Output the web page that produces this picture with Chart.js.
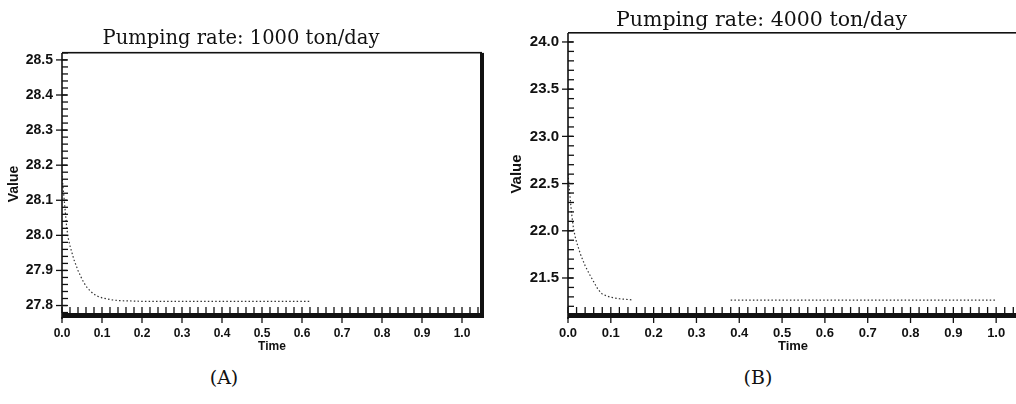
<!DOCTYPE html>
<html>
<head>
<meta charset="utf-8">
<script src="https://cdn.jsdelivr.net/npm/chart.js@4.4.1/dist/chart.umd.min.js"></script>
<style>
  html, body { margin: 0; padding: 0; background: #fff; overflow: hidden; }
  body { width: 1016px; height: 404px; position: relative; }
  .box { position: absolute; top: 0; height: 360px; }
  #boxA { left: 0; width: 517px; }
  #boxB { left: 505px; width: 547px; }
  .tag { position: absolute; top: 366px; font-family: "DejaVu Serif", serif; font-size: 19px; color: #111; transform: translateX(-50%); }
</style>
</head>
<body>
<div class="box" id="boxA"><canvas id="chartA"></canvas></div>
<div class="box" id="boxB"><canvas id="chartB"></canvas></div>
<div class="tag" style="left:224px">(A)</div>
<div class="tag" style="left:758px">(B)</div>
<script>
const timeA = [0, 0.004, 0.008, 0.012, 0.016, 0.02, 0.025, 0.03, 0.04, 0.05, 0.06, 0.07, 0.08, 0.09, 0.1, 0.12, 0.14, 0.17, 0.2, 0.3, 0.4, 0.5, 0.62];
const valueA = [28.17, 28.12, 28.07, 28.02, 27.99, 27.97, 27.95, 27.93, 27.9, 27.875, 27.855, 27.842, 27.832, 27.826, 27.822, 27.817, 27.814, 27.813, 27.812, 27.812, 27.812, 27.812, 27.812];

const timeB = [0, 0.004, 0.008, 0.012, 0.016, 0.02, 0.03, 0.04, 0.05, 0.06, 0.07, 0.08, 0.09, 0.1, 0.12, 0.15, 0.25, 0.38, 0.5, 0.6, 0.7, 0.8, 0.9, 1.0];
const valueB = [22.6, 22.4, 22.2, 22.05, 21.95, 21.88, 21.74, 21.63, 21.54, 21.46, 21.38, 21.33, 21.31, 21.295, 21.28, 21.268, null, 21.265, 21.265, 21.265, 21.265, 21.265, 21.265, 21.265];

const xTickLabels = [0, 0.1, 0.2, 0.3, 0.4, 0.5, 0.6, 0.7, 0.8, 0.9, 1.0];
const yTickLabelsA = [27.8, 27.9, 28.0, 28.1, 28.2, 28.3, 28.4, 28.5];
const yTickLabelsB = [21.5, 22.0, 22.5, 23.0, 23.5, 24.0];

function line(ctx, x1, y1, x2, y2) {
  ctx.beginPath();
  ctx.moveTo(x1, y1);
  ctx.lineTo(x2, y2);
  ctx.stroke();
}

const framePlugin = {
  id: "frame",
  afterDraw(chart, args, opts) {
    const { ctx, chartArea: a, scales: { x, y } } = chart;
    ctx.save();
    ctx.strokeStyle = "#111";
    ctx.fillStyle = "#111";

    ctx.fillRect(a.left, a.top - 1, a.right - a.left, 1.6);
    ctx.lineWidth = 1.6;
    line(ctx, a.left, a.top, a.left, a.bottom + 4);
    if (opts.rightBorder) ctx.fillRect(a.right - 2, a.top, 4, a.bottom - a.top + 3);
    ctx.fillRect(a.left, a.bottom - 2, a.right - a.left, 5);

    ctx.lineWidth = 1.3;
    for (let i = 0; ; i++) {
      const px = x.getPixelForValue(i * opts.xMinor);
      if (px > a.right) break;
      line(ctx, px, a.bottom - 8, px, a.bottom - 2);
    }
    for (let i = 0; ; i++) {
      const px = x.getPixelForValue(i * 0.1);
      if (px > a.right) break;
      line(ctx, px, a.bottom + 2, px, a.bottom + 8);
    }

    const start = Math.ceil(y.min / opts.yMinor - 1e-6);
    for (let i = start; ; i++) {
      const py = y.getPixelForValue(i * opts.yMinor);
      if (py < a.top) break;
      line(ctx, a.left, py, a.left + 6, py);
    }
    y.ticks.forEach(t => {
      const py = y.getPixelForValue(t.value);
      line(ctx, a.left - 6, py, a.left + 5, py);
    });
    ctx.restore();
  }
};

function makeChart(id, times, values, cfg) {
  const sans = "'Liberation Sans', Arial, sans-serif";
  return new Chart(document.getElementById(id), {
    type: "line",
    data: {
      datasets: [{
        data: times.map((t, i) => ({ x: t, y: values[i] })),
        borderColor: "#333",
        borderWidth: 1.2,
        borderDash: [1.5, 2.2],
        pointRadius: 0,
        spanGaps: false,
        tension: 0
      }]
    },
    options: {
      responsive: true,
      maintainAspectRatio: false,
      animation: false,
      layout: { padding: { left: 0, right: cfg.padRight, top: 0, bottom: 0 } },
      plugins: {
        legend: { display: false },
        tooltip: { enabled: false },
        title: {
          display: true,
          text: cfg.title,
          color: "#111",
          font: { family: "'DejaVu Serif', serif", size: cfg.titleSize, weight: "normal" },
          padding: { top: cfg.titleTop, bottom: cfg.titleBottom }
        },
        frame: { rightBorder: cfg.rightBorder, xMinor: 0.02, yMinor: cfg.yMinor }
      },
      scales: {
        x: {
          type: "linear",
          min: 0,
          max: cfg.xMax,
          afterFit: s => { s.height = 45; },
          afterBuildTicks: s => { s.ticks = xTickLabels.map(v => ({ value: v })); },
          grid: { display: false, drawTicks: false },
          border: { display: false },
          ticks: {
            padding: 11,
            color: "#111",
            font: { family: sans, size: cfg.xFont, weight: "bold" },
            callback: v => v.toFixed(1)
          },
          title: {
            display: true,
            text: "Time",
            color: "#111",
            font: { family: sans, size: cfg.xFont, weight: "bold" },
            padding: { top: 0, bottom: 6 }
          }
        },
        y: {
          min: cfg.yMin,
          max: cfg.yMax,
          afterFit: s => { s.width = cfg.yWidth; },
          afterBuildTicks: s => { s.ticks = cfg.yTicks.map(v => ({ value: v })); },
          grid: { display: false, drawTicks: false },
          border: { display: false },
          ticks: {
            padding: 9,
            color: "#111",
            font: { family: sans, size: cfg.yFont, weight: "bold" },
            callback: v => v.toFixed(1)
          },
          title: {
            display: true,
            text: "Value",
            color: "#111",
            font: { family: sans, size: cfg.yFont, weight: "bold" },
            padding: { top: cfg.valuePad, bottom: 0 }
          }
        }
      }
    },
    plugins: [framePlugin]
  });
}

const chartA = makeChart("chartA", timeA, valueA, {
  title: "Pumping rate: 1000 ton/day",
  titleSize: 19.5, titleTop: 27.5, titleBottom: 2,
  padRight: 35, rightBorder: true,
  xMax: 1.05, yMin: 27.773, yMax: 28.52, yTicks: yTickLabelsA, yMinor: 0.02,
  yWidth: 62, xFont: 12, yFont: 14, valuePad: 6
});

const chartB = makeChart("chartB", timeB, valueB, {
  title: "Pumping rate: 4000 ton/day",
  titleSize: 20.5, titleTop: 8.2, titleBottom: 0.2,
  padRight: 34, rightBorder: false,
  xMax: 1.051, yMin: 21.108, yMax: 24.095, yTicks: yTickLabelsB, yMinor: 0.1,
  yWidth: 63, xFont: 13, yFont: 15, valuePad: 3
});
</script>
</body>
</html>
